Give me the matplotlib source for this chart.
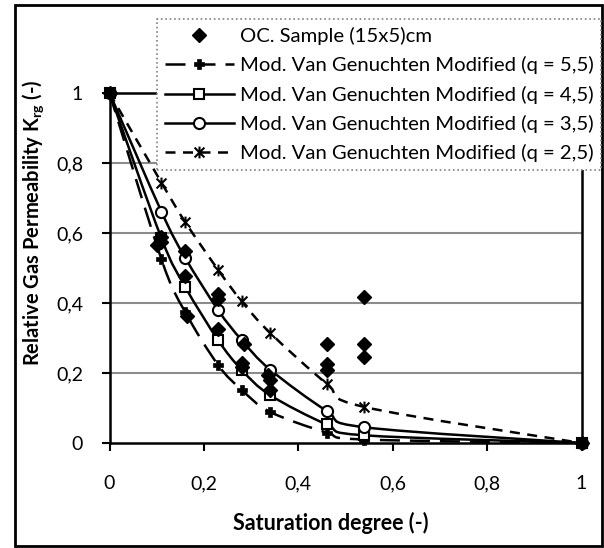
import numpy as np
import matplotlib
matplotlib.use('Agg')
import matplotlib.pyplot as plt
from matplotlib.path import Path
from matplotlib.patches import PathPatch, Rectangle
from matplotlib.lines import Line2D

plt.rcParams['font.family'] = ['Lato', 'DejaVu Sans']
plt.rcParams['mathtext.fontset'] = 'custom'
plt.rcParams['mathtext.rm'] = 'Lato'
plt.rcParams['mathtext.bf'] = 'Lato:bold'

# ---- data ----
sample_x = [0, 0.11, 0.11, 0.10, 0.16, 0.16, 0.165, 0.23, 0.23, 0.23,
            0.285, 0.28, 0.28, 0.335, 0.34, 0.34, 0.46, 0.46, 0.46,
            0.54, 0.54, 0.54, 1]
sample_y = [1, 0.59, 0.575, 0.565, 0.548, 0.478, 0.364, 0.425, 0.412, 0.325,
            0.283, 0.228, 0.218, 0.195, 0.18, 0.151, 0.283, 0.227, 0.208,
            0.418, 0.282, 0.245, 0]
model_x = [0, 0.11, 0.16, 0.23, 0.28, 0.34, 0.46, 0.54, 1]
q55 = [1, 0.525, 0.375, 0.223, 0.152, 0.089, 0.030, 0.010, 0]
q45 = [1, 0.585, 0.447, 0.294, 0.209, 0.137, 0.053, 0.022, 0]
q35 = [1, 0.661, 0.530, 0.380, 0.294, 0.210, 0.092, 0.045, 0]
q25 = [1, 0.744, 0.632, 0.495, 0.405, 0.315, 0.170, 0.103, 0]
labels = ['OC. Sample (15x5)cm',
          'Mod. Van Genuchten Modified (q = 5,5)',
          'Mod. Van Genuchten Modified (q = 4,5)',
          'Mod. Van Genuchten Modified (q = 3,5)',
          'Mod. Van Genuchten Modified (q = 2,5)']
ticks = [0, 0.2, 0.4, 0.6, 0.8, 1]
tick_labels = ['0', '0,2', '0,4', '0,6', '0,8', '1']


def smooth_path(xs, ys):
    P = np.column_stack([xs, ys]).astype(float)
    n = len(P)
    verts = [P[0]]
    codes = [Path.MOVETO]
    for i in range(n - 1):
        p0 = P[i - 1] if i > 0 else P[i]
        p1, p2 = P[i], P[i + 1]
        p3 = P[i + 2] if i + 2 < n else P[i + 1]
        verts += [p1 + (p2 - p0) / 6, p2 - (p3 - p1) / 6, p2]
        codes += [Path.CURVE4] * 3
    return Path(verts, codes)


W, H = 604, 548
fig = plt.figure(figsize=(W / 100, H / 100), dpi=100)
ax = fig.add_axes([109.5 / W, 1 - 443 / H, 472 / W, 350 / H])
ax.set_xlim(0, 1)
ax.set_ylim(0, 1)

for v in [0.2, 0.4, 0.6, 0.8]:
    ax.axhline(v, color='#8c8c8c', lw=1.5, zorder=0)

asterisk = Path([(-1, -1), (1, 1), (-1, 1), (1, -1), (0, -1.2), (0, 1.2)],
                [Path.MOVETO, Path.LINETO, Path.MOVETO, Path.LINETO, Path.MOVETO, Path.LINETO])

lw = 1.8
series = [
    (q55, (0, (8, 4)), dict(marker='P', ms=7, mfc='k', mec='k', mew=0.5)),
    (q45, '-', dict(marker='s', ms=7, mfc='white', mec='k', mew=1.5)),
    (q35, '-', dict(marker='o', ms=8, mfc='white', mec='k', mew=1.5)),
    (q25, (0, (4, 3)), dict(marker=asterisk, ms=8.5, mfc='k', mec='k', mew=1.5)),
]
handles = [Line2D([], [], ls='none', marker='D', ms=7, color='k')]
for ys, ls, mk in series:
    patch = PathPatch(smooth_path(model_x, ys), fill=False, edgecolor='k',
                      lw=lw, linestyle=ls, zorder=2, clip_on=False)
    ax.add_patch(patch)
    ax.plot(model_x, ys, ls='none', zorder=3, clip_on=False, **mk)
    handles.append(Line2D([], [], color='k', lw=lw, ls=ls, **mk))

ax.plot(sample_x, sample_y, ls='none', marker='D', ms=7, color='k',
        zorder=4, clip_on=False)

for s in ax.spines.values():
    s.set_color('k')
    s.set_linewidth(1.8)
ax.set_xticks(ticks)
ax.set_xticklabels(tick_labels)
ax.set_yticks(ticks)
ax.set_yticklabels(tick_labels)
ax.tick_params(axis='both', direction='out', length=6, width=1.5,
               labelsize=14, colors='k')
ax.tick_params(axis='x', pad=17)
ax.tick_params(axis='y', pad=13)

fig.text(331 / W, 1 - 523 / H, 'Saturation degree (-)', ha='center', va='center',
         fontsize=15.5, fontweight='bold')
fig.text(33 / W, 1 - 223 / H, r'Relative Gas Permeability K$_{\mathbf{rg}}$ (-)',
         ha='center', va='center', rotation=90, fontsize=14.5, fontweight='bold')

leg = fig.legend(handles, labels, loc='upper left',
                 bbox_to_anchor=(157 / W, 1 - 19 / H), borderaxespad=0,
                 fontsize=14.6, handlelength=3.4, handletextpad=0.3,
                 labelspacing=0.56, borderpad=0.38, fancybox=False,
                 framealpha=1, edgecolor='#808080')
leg.get_frame().set_linestyle(':')
leg.get_frame().set_linewidth(1.2)

fig.patches.append(Rectangle((15 / W, 2 / H), 587 / W, 541 / H, transform=fig.transFigure,
                             fill=False, edgecolor='k', lw=2))

fig.savefig('out.png', dpi=100)
